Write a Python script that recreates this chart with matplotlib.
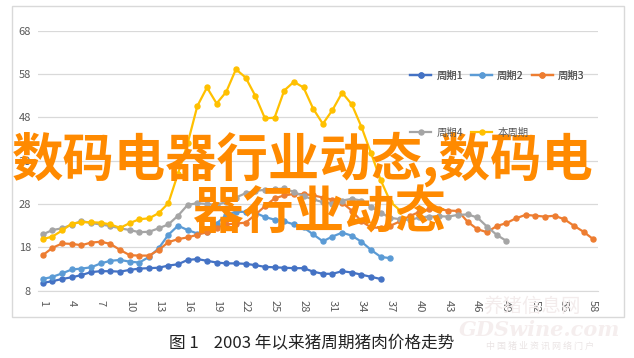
import numpy as np
import matplotlib
matplotlib.use('Agg')
import matplotlib.pyplot as plt
from matplotlib.patches import Rectangle

plt.rcParams['font.family'] = ['Noto Sans CJK SC', 'DejaVu Sans']

# data (week index 1..58)
cycle1 = [9.8, 10.2, 10.7, 11.1, 11.6, 12.3, 12.5, 12.5, 12.4, 12.8, 13.1, 13.2, 13.3, 13.8,
          14.1, 15.1, 15.3, 14.9, 14.5, 14.3, 14.3, 14.2, 13.9, 13.5, 13.4, 13.3, 13.2, 13.2,
          12.4, 11.9, 11.9, 12.5, 12.2, 11.7, 11.2, 10.7]
cycle2 = [10.7, 11.2, 12.0, 12.9, 13.1, 13.4, 14.3, 14.9, 15.1, 14.7, 14.5, 15.8, 17.8, 20.9,
          23.0, 22.0, 21.2, 21.5, 23.5, 25.5, 26.2, 26.2, 26.0, 25.0, 24.4, 24.0, 23.3, 22.6,
          21.0, 19.4, 20.5, 21.4, 20.7, 19.3, 17.4, 15.8, 15.5]
cycle3 = [16.2, 17.9, 18.9, 18.8, 18.5, 19.1, 19.3, 18.8, 17.4, 16.2, 16.1, 16.1, 17.4, 19.2,
          19.9, 20.3, 20.9, 21.5, 22.5, 23.3, 23.5, 23.7, 25.5, 27.5, 29.3, 30.0, 30.3, 30.3,
          30.0, 29.5, 29.0, 28.3, 26.5, 24.0, 22.6, 22.5, 23.0, 24.0, 25.2, 26.2, 26.8, 26.8,
          26.5, 26.4, 23.9, 22.2, 21.5, 22.9, 23.6, 24.7, 25.5, 25.3, 25.1, 25.3, 24.5, 23.0,
          21.6, 19.9]
cycle4 = [21.0, 22.0, 22.4, 23.2, 24.1, 23.6, 23.3, 22.9, 22.4, 22.0, 21.5, 21.6, 22.4, 23.3,
          25.3, 27.8, 28.2, 28.0, 27.8, 28.5, 29.5, 30.5, 31.0, 31.3, 31.4, 31.6, 30.8, 29.8,
          29.1, 28.4, 28.1, 28.8, 29.2, 28.8, 27.4, 26.0, 24.8, 24.5, 24.3, 24.9, 25.1, 25.2,
          25.1, 25.5, 25.6, 24.9, 22.8, 20.9, 19.5]
current = [19.9, 20.5, 21.9, 23.5, 23.8, 23.8, 23.7, 23.3, 22.5, 23.6, 24.5, 24.7, 25.9, 28.2,
           35.0, 42.0, 50.6, 54.9, 51.2, 53.9, 59.1, 57.2, 53.0, 47.8, 47.9, 54.2, 56.2, 54.9,
           50.0, 46.5, 49.7, 53.7, 51.0, 45.8, 39.7, 33.5, 28.5, 26.5]

names = ['周期1', '周期2', '周期3', '周期4', '本周期']
colors = ['#4472C4', '#5B9BD5', '#ED7D31', '#A5A5A5', '#FFC000']
series = [cycle1, cycle2, cycle3, cycle4, current]

fig = plt.figure(figsize=(6.34, 3.58), dpi=100)
fig.patches.append(Rectangle((12/634, 1-317/358), 612/634, 311/358, transform=fig.transFigure,
                             fill=False, edgecolor='#D9D9D9', lw=1.0))

ax = fig.add_axes([38/634, 1-290.7/358, 560/634, 260/358])
lines = []
for s, c, n in zip(series, colors, names):
    x = np.arange(1, len(s)+1)
    ln, = ax.plot(x, s, color=c, lw=1.6, marker='o', ms=3.6, label=n)
    lines.append(ln)

ax.set_xlim(0.5, 58.5)
ax.set_ylim(8, 68)
ax.set_yticks(range(8, 69, 10))
ax.set_xticks(range(1, 59, 3))
ax.set_xticklabels([str(v) for v in range(1, 59, 3)], rotation=-90)
ax.tick_params(axis='both', length=0, labelsize=8, labelcolor='#595959')
ax.tick_params(axis='x', pad=7)
ax.tick_params(axis='y', pad=5)
ax.grid(axis='y', color='#D9D9D9', lw=0.9)
ax.set_axisbelow(True)
for sp in ['top', 'right', 'left']:
    ax.spines[sp].set_visible(False)
ax.spines['bottom'].set_color('#D9D9D9')

# legend in two rows, like the source
leg1 = fig.legend(lines[:3], names[:3], loc='center left', bbox_to_anchor=(405/634, 1-76/358),
                  ncol=3, frameon=False, fontsize=7.5, handlelength=2.0, handletextpad=0.5,
                  columnspacing=0.8, borderpad=0, labelcolor='#595959')
leg2 = fig.legend(lines[3:], names[3:], loc='center left', bbox_to_anchor=(405/634, 1-133/358),
                  ncol=2, frameon=False, fontsize=7.5, handlelength=2.0, handletextpad=0.5,
                  columnspacing=0.8, borderpad=0, labelcolor='#595959')
fig.add_artist(leg1)

# caption
fig.text(312/634, 1-344/358, '图 1    2003 年以来猪周期猪肉价格走势', ha='center', va='center',
         fontsize=12, color='#222222')

# faint watermark
fig.text(532/634, 1-306/358, '养猪信息网', ha='center', va='center', fontsize=14,
         color='#F3ECEC')
fig.text(540/634, 1-330/358, 'GDSwine.com', ha='center', va='center', fontsize=15,
         color='#F5EEEE', family='DejaVu Serif', style='italic', weight='bold')
fig.text(540/634, 1-346/358, '中 国 猪 业 资 讯 网 络 门 户', ha='center', va='center',
         fontsize=6.5, color='#EAE4E4')

# big orange overlay text
fig.text(12/634, 1-159/358, '数码电器行业动态,数码电', ha='left', va='center',
         fontsize=37, color='#FF8A00', weight='bold')
fig.text(192/634, 1-213/358, '器行业动态', ha='left', va='center',
         fontsize=36.5, color='#FF8A00', weight='bold')

fig.savefig('out.png', dpi=100)
